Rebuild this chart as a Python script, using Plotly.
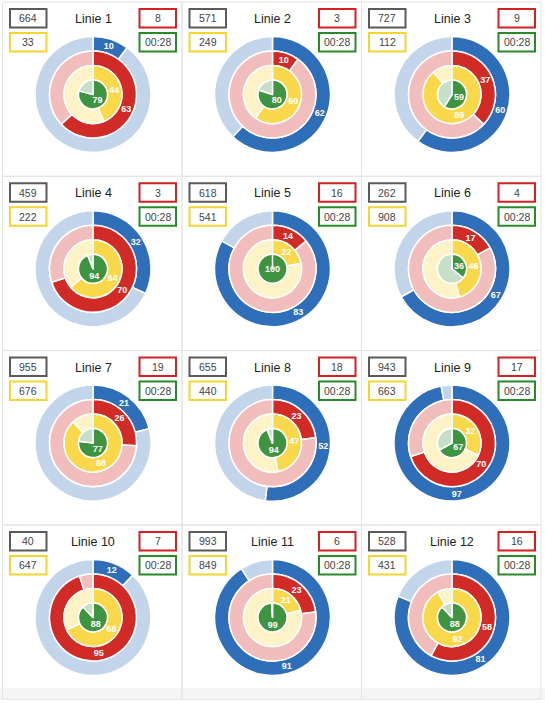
import plotly.graph_objects as go

# page size (px)
W, H = 545, 703

# data per panel
lines = ["Linie 1", "Linie 2", "Linie 3", "Linie 4", "Linie 5", "Linie 6",
         "Linie 7", "Linie 8", "Linie 9", "Linie 10", "Linie 11", "Linie 12"]
gray_vals = [664, 571, 727, 459, 618, 262, 955, 655, 943, 40, 993, 528]
yellow_vals = [33, 249, 112, 222, 541, 908, 676, 440, 663, 647, 849, 431]
red_vals = [8, 3, 9, 3, 16, 4, 19, 18, 17, 7, 6, 16]
time_vals = ["00:28", "00:28", "00:28", "00:28", "00:28", "00:28",
             "00:28", "00:28", "00:28", "00:28", "00:28", "00:28"]
blue_pct = [10, 62, 60, 32, 83, 67, 21, 52, 97, 12, 91, 81]
red_pct = [63, 10, 37, 70, 14, 17, 26, 23, 70, 95, 23, 58]
yellow_pct = [44, 60, 89, 64, 22, 46, 88, 47, 32, 68, 21, 92]
green_pct = [79, 80, 59, 94, 100, 36, 77, 94, 67, 88, 99, 88]

# ring colours (filled, rest) and radii in px
rings = [
    ("blue", blue_pct, "#2f6eb8", "#c3d5eb", 43.5, 58.0),
    ("red", red_pct, "#d02b26", "#f1bdbd", 29.0, 43.5),
    ("yellow", yellow_pct, "#f9d84b", "#fdf3c7", 14.5, 29.0),
    ("green", green_pct, "#3f9442", "#c6e0c7", 0.0, 14.5),
]

FONT = "Liberation Sans, Arial, Helvetica, sans-serif"

col_left = [2.5, 182.0, 361.5]
col_w = 179.5
row_top = [2.0, 176.3, 350.6, 525.0]
row_h = 174.3


def px(x):
    return x / W


def py(y):
    return 1 - y / H


fig = go.Figure()
shapes = []
annotations = []


def box(x0, y0, x1, y1, color, label):
    shapes.append(dict(type="rect", xref="paper", yref="paper",
                       x0=px(x0), x1=px(x1), y0=py(y1), y1=py(y0),
                       line=dict(color=color, width=2), fillcolor="white"))
    annotations.append(dict(x=px((x0 + x1) / 2), y=py((y0 + y1) / 2),
                            xref="paper", yref="paper", text=label,
                            showarrow=False, xanchor="center", yanchor="middle",
                            font=dict(family=FONT, size=10.5, color="#444")))


# faint strip below the last row
shapes.append(dict(type="rect", xref="paper", yref="paper", layer="below",
                   x0=px(0), x1=px(W), y0=py(699.5), y1=py(688),
                   fillcolor="#f5f5f5", line=dict(width=0)))

for i, name in enumerate(lines):
    c, r = i % 3, i // 3
    left, top = col_left[c], row_top[r]
    cx, cy = left + 90.5, top + 92.5

    # panel border
    shapes.append(dict(type="rect", xref="paper", yref="paper", layer="below",
                       x0=px(left), x1=px(left + col_w),
                       y0=py(top + row_h), y1=py(top),
                       line=dict(color="#e4e4e4", width=1)))

    # title
    annotations.append(dict(x=px(cx), y=py(top + 17), xref="paper", yref="paper",
                            text=name, showarrow=False, xanchor="center",
                            yanchor="middle",
                            font=dict(family=FONT, size=12.5, color="#222")))

    # info boxes
    box(left + 7.5, top + 7, left + 44, top + 25.5, "#5a5a5a", str(gray_vals[i]))
    box(left + 7.5, top + 31, left + 44, top + 49.5, "#f4d532", str(yellow_vals[i]))
    box(left + 137, top + 7, left + 173.5, top + 25.5, "#d42121", str(red_vals[i]))
    box(left + 137, top + 31, left + 173.5, top + 49.5, "#2a8a2a", time_vals[i])

    # concentric rings
    for key, vals, dark, light, r_in, r_out in rings:
        v = vals[i]
        fig.add_trace(go.Pie(
            values=[v, 100 - v],
            text=[str(v), ""],
            texttemplate="%{text}",
            textposition="inside",
            insidetextorientation="horizontal",
            textfont=dict(family=FONT, size=9, color="white", weight="bold"),
            marker=dict(colors=[dark, light], line=dict(color="white", width=1.5)),
            hole=r_in / r_out,
            sort=False,
            direction="clockwise",
            rotation=0,
            hoverinfo="skip",
            showlegend=False,
            domain=dict(x=[px(cx - r_out), px(cx + r_out)],
                        y=[py(cy + r_out), py(cy - r_out)]),
        ))

fig.update_layout(
    width=W, height=H,
    margin=dict(l=0, r=0, t=0, b=0),
    paper_bgcolor="white",
    plot_bgcolor="white",
    shapes=shapes,
    annotations=annotations,
    uniformtext=dict(mode="show", minsize=9),
)

fig.write_html("out.html", config={"displayModeBar": False},
               post_script="document.body.style.margin='0';")
